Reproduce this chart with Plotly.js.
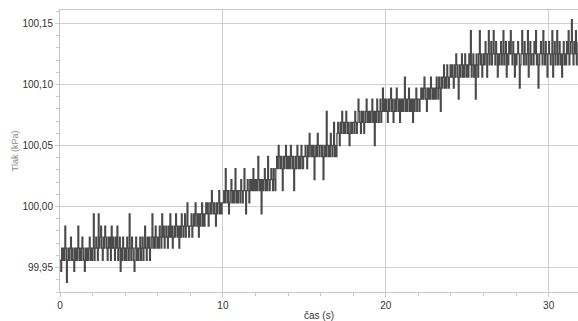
<!DOCTYPE html>
<html>
<head>
<meta charset="utf-8">
<script src="https://cdn.plot.ly/plotly-3.0.1.min.js"></script>
<style>html,body{margin:0;padding:0;background:#fff;}#chart{width:578px;height:321px;}</style>
</head>
<body>
<div id="chart"></div>
<script>
// time axis: samples every 0.05 s starting at 0 s
var casStart = 0;
var casKrok = 0.05;

// pressure (kPa), 0–8 s
var tlak0_8 = [
99.956,99.947,99.966,99.956,99.966,99.956,99.984,99.966,99.938,99.956,99.966,99.956,99.966,99.975,99.956,99.966,99.956,99.947,99.966,99.956,
99.966,99.956,99.984,99.966,99.956,99.966,99.956,99.975,99.966,99.956,99.947,99.966,99.956,99.966,99.956,99.966,99.975,99.956,99.966,99.956,
99.966,99.994,99.956,99.966,99.975,99.966,99.956,99.994,99.966,99.975,99.984,99.966,99.956,99.975,99.966,99.984,99.975,99.966,99.956,99.975,
99.966,99.975,99.956,99.984,99.966,99.975,99.966,99.956,99.975,99.966,99.984,99.956,99.966,99.975,99.947,99.966,99.956,99.975,99.966,99.956,
99.966,99.956,99.975,99.966,99.956,99.994,99.966,99.956,99.975,99.966,99.956,99.947,99.966,99.975,99.956,99.966,99.956,99.966,99.975,99.956,
99.966,99.975,99.956,99.966,99.984,99.966,99.956,99.975,99.966,99.975,99.956,99.966,99.975,99.994,99.966,99.975,99.966,99.984,99.975,99.966,
99.975,99.966,99.984,99.975,99.966,99.994,99.975,99.984,99.966,99.975,99.984,99.975,99.966,99.984,99.975,99.994,99.975,99.984,99.966,99.975,
99.984,99.975,99.994,99.984,99.975,99.984,99.966,99.984,99.975,99.994,99.984,99.975,99.984,99.994,99.975,99.984,100.003,99.984,99.975,99.984
];
// pressure (kPa), 8–16 s
var tlak8_16 = [
99.984,99.994,99.975,99.984,99.994,99.984,100.003,99.994,99.984,99.994,99.975,99.994,99.984,99.994,100.003,99.984,99.994,99.984,99.994,100.003,
99.994,100.003,99.984,99.994,100.003,99.994,100.013,100.003,99.994,100.003,99.994,99.984,100.003,99.994,100.003,100.013,99.994,100.003,99.994,100.003,
100.003,100.013,100.003,100.031,100.013,100.003,100.013,99.994,100.003,100.013,100.022,100.003,100.013,100.003,100.013,100.031,100.003,100.013,100.003,100.013,
100.013,100.003,100.022,100.013,100.003,100.013,100.031,100.013,99.994,100.013,100.022,100.013,100.003,100.022,100.013,100.022,100.013,100.031,100.013,100.022,
100.013,100.022,100.013,100.041,100.022,100.013,100.022,99.994,100.022,100.013,100.022,100.031,100.013,100.022,100.013,100.041,100.022,100.013,100.022,100.031,
100.022,100.013,100.031,100.022,100.013,100.031,100.041,100.031,100.050,100.041,100.031,100.041,100.031,100.013,100.041,100.031,100.041,100.050,100.031,100.041,
100.031,100.041,100.031,100.050,100.041,100.031,100.041,100.013,100.031,100.041,100.031,100.050,100.041,100.031,100.041,100.031,100.050,100.041,100.031,100.041,
100.041,100.050,100.041,100.031,100.050,100.041,100.060,100.050,100.041,100.050,100.041,100.050,100.022,100.041,100.050,100.041,100.060,100.050,100.041,100.050
];
// pressure (kPa), 16–24 s
var tlak16_24 = [
100.050,100.041,100.050,100.022,100.041,100.050,100.041,100.078,100.050,100.041,100.050,100.041,100.060,100.050,100.041,100.050,100.069,100.041,100.050,100.041,
100.060,100.069,100.060,100.050,100.069,100.060,100.078,100.069,100.060,100.069,100.060,100.078,100.069,100.060,100.069,100.050,100.060,100.069,100.060,100.069,
100.069,100.060,100.078,100.069,100.060,100.069,100.088,100.078,100.069,100.060,100.078,100.069,100.078,100.060,100.069,100.078,100.088,100.069,100.078,100.069,
100.078,100.069,100.078,100.088,100.069,100.078,100.050,100.078,100.069,100.088,100.078,100.069,100.078,100.088,100.069,100.078,100.097,100.078,100.088,100.078,
100.088,100.078,100.069,100.088,100.078,100.088,100.097,100.078,100.088,100.069,100.078,100.088,100.078,100.097,100.088,100.078,100.088,100.069,100.088,100.078,
100.088,100.078,100.088,100.106,100.078,100.088,100.078,100.088,100.097,100.078,100.088,100.078,100.088,100.069,100.088,100.078,100.088,100.097,100.078,100.088,
100.088,100.078,100.088,100.097,100.088,100.097,100.088,100.106,100.097,100.088,100.078,100.097,100.088,100.097,100.088,100.106,100.097,100.088,100.097,100.088,
100.097,100.088,100.106,100.097,100.088,100.106,100.097,100.078,100.106,100.097,100.106,100.116,100.097,100.106,100.097,100.116,100.106,100.097,100.106,100.116
];
// pressure (kPa), 24–31.8 s
var tlak24_32 = [
100.106,100.116,100.106,100.097,100.116,100.106,100.125,100.116,100.106,100.088,100.116,100.106,100.116,100.125,100.106,100.116,100.106,100.125,100.116,100.106,
100.116,100.106,100.125,100.116,100.144,100.106,100.116,100.125,100.106,100.116,100.088,100.125,100.116,100.106,100.125,100.144,100.116,100.125,100.106,100.116,
100.125,100.116,100.135,100.125,100.106,100.125,100.144,100.116,100.125,100.135,100.116,100.125,100.144,100.125,100.116,100.135,100.125,100.106,100.125,100.116,
100.125,100.135,100.116,100.125,100.144,100.116,100.125,100.135,100.106,100.125,100.116,100.135,100.125,100.144,100.125,100.116,100.135,100.125,100.106,100.125,
100.116,100.125,100.135,100.125,100.097,100.116,100.125,100.144,100.125,100.116,100.135,100.125,100.116,100.125,100.144,100.106,100.125,100.135,100.116,100.125,
100.125,100.116,100.135,100.125,100.144,100.116,100.125,100.097,100.116,100.125,100.135,100.125,100.116,100.144,100.125,100.116,100.135,100.125,100.106,100.125,
100.135,100.125,100.116,100.125,100.144,100.106,100.125,100.135,100.116,100.125,100.144,100.116,100.125,100.135,100.116,100.125,100.106,100.125,100.135,100.116,
100.125,100.116,100.135,100.125,100.144,100.116,100.125,100.135,100.153,100.125,100.116,100.135,100.125,100.144,100.116,100.125,100.135
];

var xTicks = [0, 10, 20, 30];
var yTicks = [99.95, 100.00, 100.05, 100.10, 100.15];
var yTickText = ['99,95', '100,00', '100,05', '100,10', '100,15'];

var tlak = tlak0_8.concat(tlak8_16, tlak16_24, tlak24_32);

var trace = {
  type: 'scatter',
  mode: 'lines',
  x0: casStart,
  dx: casKrok,
  y: tlak,
  line: {color: '#4a4a4a', width: 1.3, shape: 'hv'},
  hoverinfo: 'skip'
};

var fontFam = 'Liberation Sans, Arial, sans-serif';
var layout = {
  width: 578,
  height: 321,
  margin: {l: 60, r: 0, t: 10, b: 29},
  paper_bgcolor: '#ffffff',
  plot_bgcolor: '#ffffff',
  showlegend: false,
  separators: ', ',
  font: {family: fontFam, size: 10, color: '#333333'},
  xaxis: {
    range: [0, 31.8],
    tickvals: xTicks,
    ticktext: xTicks.map(String),
    showgrid: true,
    gridcolor: '#cfcfcf',
    gridwidth: 1,
    zeroline: false,
    showline: true,
    linecolor: '#c8c8c8',
    linewidth: 1,
    mirror: true,
    ticks: 'outside',
    ticklen: 4,
    tickcolor: '#c8c8c8',
    tickfont: {family: fontFam, size: 10, color: '#333333'},
    minor: {dtick: 2, tick0: 0, ticks: 'outside', ticklen: 3, tickcolor: '#c8c8c8', showgrid: false},
    title: {text: 'čas (s)', font: {family: fontFam, size: 10, color: '#333333'}, standoff: 4}
  },
  yaxis: {
    range: [99.93, 100.161],
    tickvals: yTicks,
    ticktext: yTickText,
    showgrid: true,
    gridcolor: '#cfcfcf',
    gridwidth: 1,
    zeroline: false,
    showline: true,
    linecolor: '#c8c8c8',
    linewidth: 1,
    ticks: 'outside',
    ticklen: 4,
    tickcolor: '#c8c8c8',
    tickfont: {family: fontFam, size: 10, color: '#333333'},
    minor: {dtick: 0.01, tick0: 99.95, ticks: 'outside', ticklen: 3, tickcolor: '#c8c8c8', showgrid: false},
    title: {text: 'Tlak (kPa)', font: {family: fontFam, size: 9, color: '#8a8a8a'}, standoff: 2}
  }
};

Plotly.newPlot('chart', [trace], layout, {displayModeBar: false, staticPlot: true});
</script>
</body>
</html>
